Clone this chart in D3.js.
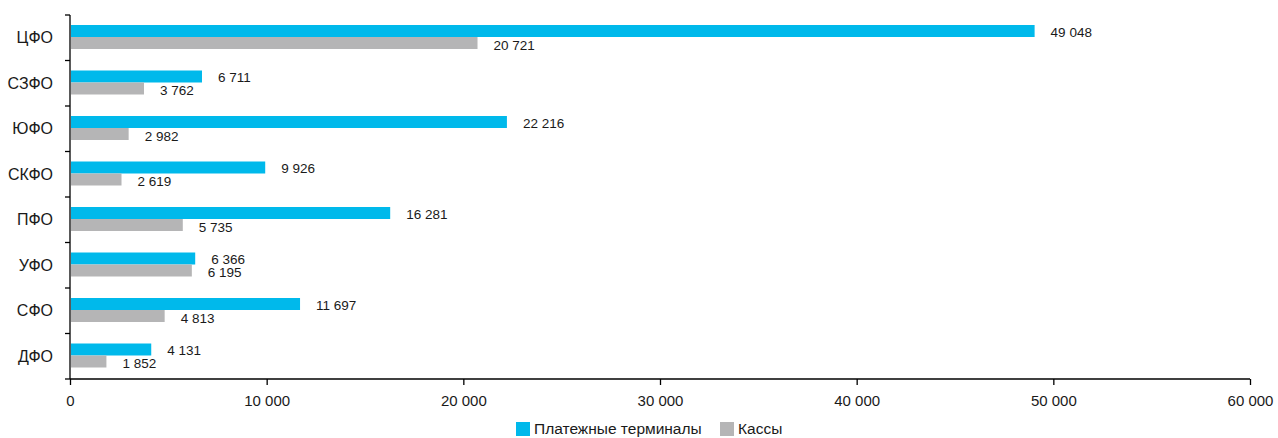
<!DOCTYPE html>
<html><head><meta charset="utf-8">
<script src="https://cdn.jsdelivr.net/npm/d3@7"></script>
<style>
body{margin:0;background:#fff;}
svg{display:block;font-family:"Liberation Sans",Arial,sans-serif;}
</style></head>
<body><svg id="c" width="1278" height="438"></svg>
<script>
const categories = ["ЦФО","СЗФО","ЮФО","СКФО","ПФО","УФО","СФО","ДФО"];
const terminals = [49048, 6711, 22216, 9926, 16281, 6366, 11697, 4131];
const cashDesks = [20721, 3762, 2982, 2619, 5735, 6195, 4813, 1852];
const seriesNames = ["Платежные терминалы","Кассы"];
const seriesColors = ["#00B9EB","#B5B5B6"];
const xTicks = [0,10000,20000,30000,40000,50000,60000];

const svg = d3.select("#c");
const m = {l:70, r:28, t:15, b:59};
const W = 1278, H = 438;
const x = d3.scaleLinear().domain([0,60000]).range([m.l, W-m.r]);
const y = d3.scaleBand().domain(categories).range([m.t, H-m.b]);
const fmt = v => d3.format(",")(v).replace(/,/g," ");

const bh = 12, off = 10;
const series = [terminals, cashDesks];
series.forEach((vals, si) => {
  const g = svg.append("g");
  g.selectAll("rect").data(categories).join("rect")
    .attr("x", x(0)+1)
    .attr("y", (c)=> y(c)+off+si*bh)
    .attr("width", (c,i)=> x(vals[i])-x(0)-1)
    .attr("height", bh)
    .attr("fill", seriesColors[si]);
  g.selectAll("text").data(categories).join("text")
    .attr("x", (c,i)=> x(vals[i])+16)
    .attr("y", (c)=> y(c)+off+si*bh+bh/2+(si?2:1))
    .attr("dy","0.35em")
    .attr("font-size",13.5)
    .attr("fill","#1a1a1a")
    .text((c,i)=>fmt(vals[i]));
});

// y axis
const ya = svg.append("g").attr("transform",`translate(${m.l},0)`);
ya.append("line").attr("x1",0).attr("x2",0).attr("y1",m.t).attr("y2",H-m.b).attr("stroke","#000").attr("stroke-width",1.3);
const yt = [...categories.map(c=>y(c)), H-m.b];
ya.selectAll(".t").data(yt).join("line").attr("x1",-5).attr("x2",0).attr("y1",d=>d).attr("y2",d=>d).attr("stroke","#000").attr("stroke-width",1.3);
ya.selectAll("text").data(categories).join("text")
  .attr("x",-17).attr("y",c=>y(c)+y.bandwidth()/2).attr("dy","0.35em")
  .attr("text-anchor","end").attr("font-size",16).attr("fill","#1a1a1a").text(c=>c);

// x axis
const xa = svg.append("g").attr("transform",`translate(0,${H-m.b})`)
  .call(d3.axisBottom(x).tickValues(xTicks).tickSize(6).tickPadding(10).tickFormat(fmt));
xa.select(".domain").attr("d",`M${x(0)},0H${x(60000)}`).attr("stroke","#000").attr("stroke-width",1.3);
xa.selectAll(".tick line").attr("y1",0).attr("y2",6).attr("stroke-width",1.3);
xa.selectAll("text").attr("font-size",15).attr("fill","#1a1a1a").attr("font-family","Liberation Sans, Arial, sans-serif");

// legend
const lg = svg.append("g");
const lx = [516, 720];
seriesNames.forEach((n,i)=>{
  lg.append("rect").attr("x",lx[i]).attr("y",422).attr("width",14).attr("height",14).attr("fill",seriesColors[i]);
  lg.append("text").attr("x",lx[i]+18).attr("y",429).attr("dy","0.35em").attr("font-size",15.5).attr("fill","#1a1a1a").text(n);
});
</script></body></html>
